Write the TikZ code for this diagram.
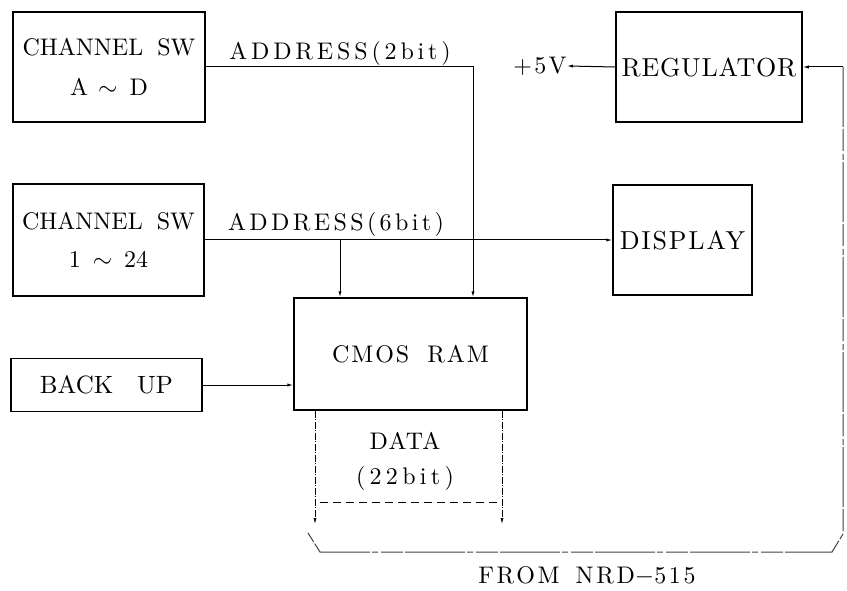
\documentclass[tikz,border=0pt]{standalone}
\usepackage{fontspec}
\setmainfont{lmroman10-regular}[Extension=.otf]
\usetikzlibrary{arrows.meta}
% serif at a given size with a given letter spacing
\newcommand\lsfont[2]{\fontsize{#1}{#1}\selectfont\addfontfeatures{LetterSpace=#2}}
\begin{document}
\begin{tikzpicture}[x=1pt,y=-1pt,
  blk/.style={draw, line width=1.5pt, inner sep=0pt, align=center},
  conn/.style={line width=1pt},
  tip/.style={-{Latex[length=6pt,width=3.2pt]}},
  lab/.style={inner sep=0pt},
  databus/.style={line width=0.8pt, dash pattern=on 7pt off 1.5pt on 1pt off 1.5pt},
  ret/.style={line width=1pt, black!75, dash pattern=on 60pt off 2pt on 22pt off 3pt on 6pt off 2pt}]
\useasboundingbox (0,0) rectangle (847,591);

% blocks
\node[blk, minimum width=192pt, minimum height=110pt, font=\lsfont{24}{0}] (chad) at (109,67)
  {CHANNEL\hspace{14pt}SW\\[16pt]A\hspace{10pt}$\sim$\hspace{12pt}D};
\node[blk, minimum width=191pt, minimum height=112pt, font=\lsfont{24}{0}] (ch124) at (108.5,240)
  {CHANNEL\hspace{14pt}SW\\[14pt]1\hspace{12pt}$\sim$\hspace{12pt}24};
\node[blk, minimum width=191pt, minimum height=53pt, font=\lsfont{25}{0}] (backup) at (106.5,385)
  {BACK\hspace{24pt}UP};
\node[blk, minimum width=233pt, minimum height=112pt, font=\lsfont{24}{8}] (cmos) at (410.5,354)
  {CMOS\hspace{18pt}RAM};
\node[blk, minimum width=186pt, minimum height=110pt, font=\lsfont{26}{3}] (reg) at (709,67)
  {REGULATOR};
\node[blk, minimum width=139pt, minimum height=110pt, font=\lsfont{26}{7}] (disp) at (682.5,240)
  {DISPLAY};

% labels
\node[lab, font=\lsfont{24}{16}] (a2) at (340,54) {ADDRESS(2bit)};
\node[lab, font=\lsfont{24}{14}] (a6) at (336,225) {ADDRESS(6bit)};
\node[lab, font=\lsfont{24}{10}] (v5) at (540,66) {+5V};
\node[lab, font=\lsfont{24}{5}] (dlab) at (405,441) {DATA};
\node[lab, font=\lsfont{24}{18}] (blab) at (405,478) {(22bit)};
\node[lab, font=\lsfont{24}{11}] (from) at (587,576) {FROM\hspace{16pt}NRD$-$515};

% address lines
\coordinate (j2) at (473,67);
\coordinate (j6) at (340,240);
\draw[conn, tip] (chad.east) -- (j2) -- (j2 |- cmos.north);
\draw[conn, tip] (ch124.east) -- (disp.west);
\draw[conn, tip] (j6) -- (j6 |- cmos.north);

% back-up supply
\draw[conn, tip] (backup.east) -- (backup.east -| cmos.west);

% regulator
\draw[conn, tip] (reg.west) -- (v5.east);
\coordinate (rc) at (843,67);
\draw[conn, tip] (rc) -- (reg.east);

% data bus
\coordinate (d1) at (315,524);
\coordinate (d2) at (502,524);
\draw[databus, tip] (d1 |- cmos.south) -- (d1);
\draw[databus, tip] (d2 |- cmos.south) -- (d2);
\coordinate (bl) at (320,502);
\coordinate (br) at (499,502);
\draw[line width=1pt, dash pattern=on 8pt off 5pt] (bl) -- (br);

% connector bracket from the receiver
\coordinate (rb) at (843,534);
\coordinate (rbc) at (832,552);
\coordinate (lbc) at (320,552);
\coordinate (lb) at (308,533);
\draw[ret] (rc) -- (rb) -- (rbc) -- (lbc) -- (lb);
\end{tikzpicture}
\end{document}
